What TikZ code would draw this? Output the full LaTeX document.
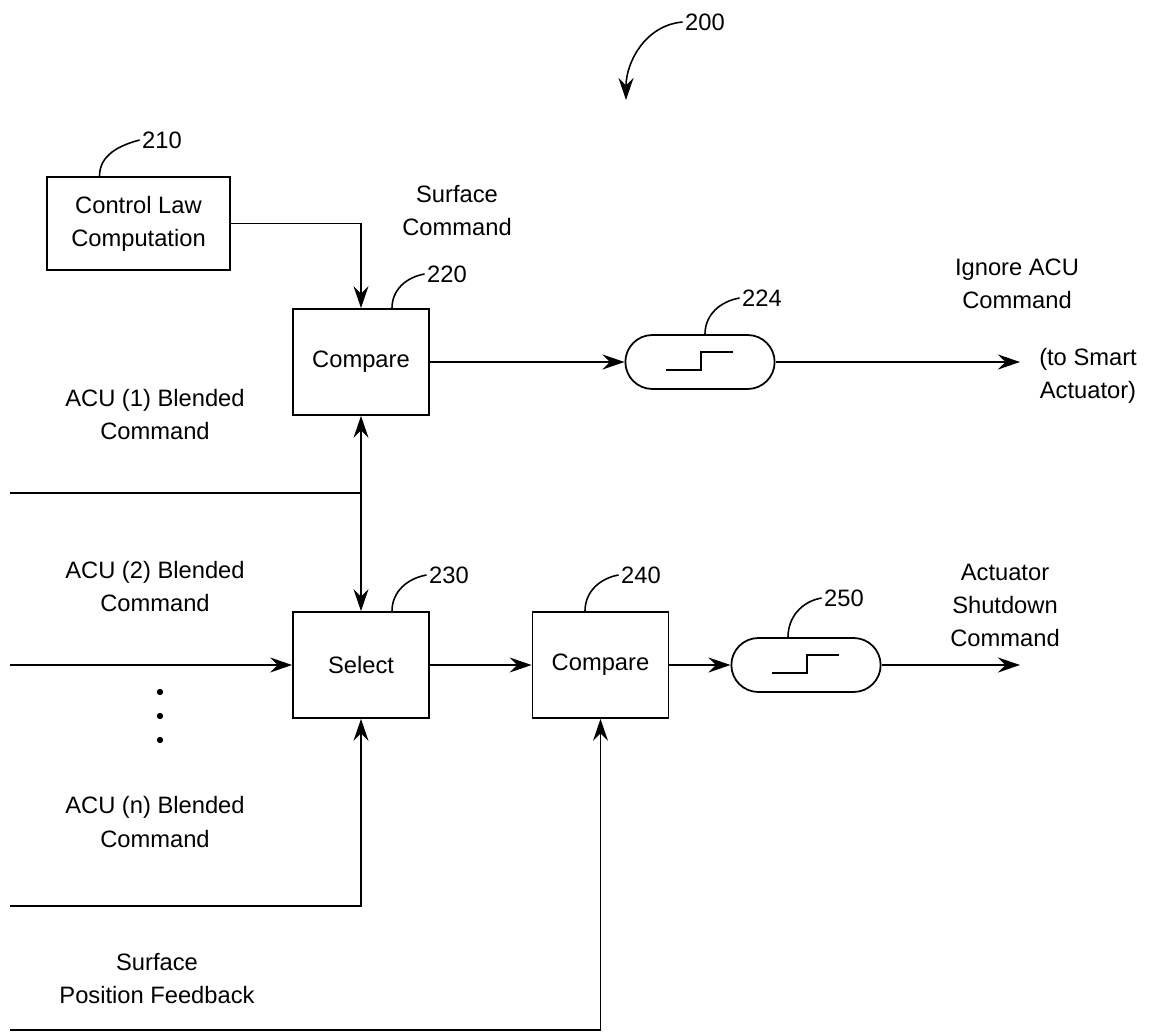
\documentclass[tikz,border=0pt]{standalone}
\usepackage{fontspec}
\setmainfont{Liberation Sans}
\usetikzlibrary{arrows.meta,shapes.misc}

\tikzset{
	blok/.style = {draw, line width=1pt, align=center, minimum width=2.72cm, minimum height=2.12cm},
	pill/.style = {draw, line width=1pt, rounded rectangle, minimum width=3.22cm, minimum height=1.08cm},
	txt/.style = {align=center, inner sep=1pt},
	refnum/.style = {inner sep=1pt},
	lead/.style = {line width=0.9pt},
	>={Stealth[length=4.4mm, width=3mm, inset=1.5mm]}
}

\newcommand{\stepsym}[1]{\draw [line width=0.9pt]([shift={(-34,8)}]#1.center) -- ++(35,0) -- ++(0,-18) -- ++(32,0);}

\begin{document}
\begin{tikzpicture}[x=0.02cm, y=-0.02cm, line width=1pt, font=\fontsize{13.5}{18.8}\selectfont]
	\useasboundingbox (0,0) rectangle (1156,1034);

	% blocks
	\node (law)[blok, minimum width=3.66cm, minimum height=1.86cm] at(138.5,223.5) {Control Law\\Computation};
	\node (cmpa)[blok] at(361,362) {Compare};
	\node (sel)[blok] at(361,665) {Select};
	\node (cmpb)[blok] at(600.5,665) {Compare};
	\node (flta)[pill] at(700,362) {};
	\node (fltb)[pill] at(806,665) {};
	\stepsym{flta}
	\stepsym{fltb}

	% reference numerals
	\node (n200)[refnum] at(705,22) {200};
	\node (n210)[refnum] at(162,140) {210};
	\node (n220)[refnum] at(447,274) {220};
	\node (n224)[refnum] at(762,298) {224};
	\node (n230)[refnum] at(449,575) {230};
	\node (n240)[refnum] at(641,575) {240};
	\node (n250)[refnum] at(844,598) {250};

	\draw [->, lead](n200.west) to[out=185, in=90] (626,100);
	\draw [lead]([xshift=-0.78cm]law.north) to[out=90, in=195] (n210.west);
	\draw [lead]([xshift=0.62cm]cmpa.north) to[out=90, in=190] (n220.west);
	\draw [lead]([xshift=0.1cm]flta.north) to[out=90, in=190] (n224.west);
	\draw [lead]([xshift=0.62cm]sel.north) to[out=90, in=190] (n230.west);
	\draw [lead]([xshift=-0.31cm]cmpb.north) to[out=90, in=190] (n240.west);
	\draw [lead]([xshift=-0.36cm]fltb.north) to[out=90, in=190] (n250.west);

	% signal labels
	\node (lsc)[txt] at(457,211) {Surface\\Command};
	\node (lign)[txt] at(1017,284) {Ignore ACU\\Command};
	\node (lsmart)[txt] at(1088,376) {(to Smart\\Actuator)};
	\node (lacu1)[txt] at(155,415) {ACU (1) Blended\\Command};
	\node (lacu2)[txt] at(155,587) {ACU (2) Blended\\Command};
	\node (lacun)[txt] at(155,822) {ACU (n) Blended\\Command};
	\node (lshut)[txt] at(1005,605) {Actuator\\Shutdown\\Command};
	\node (lfb)[txt] at(157,979) {Surface\\Position Feedback};

	\foreach \y in {692,716,740}
		\fill (160,\y) circle (3.2);

	% line ends
	\coordinate (acu1) at(10,493);
	\coordinate (acu2) at(10,665);
	\coordinate (acun) at(10,906);
	\coordinate (fb) at(10,1030);
	\coordinate (outa) at(1020,362);
	\coordinate (outb) at(1020,665);

	% connections
	\draw [->](law.east) -| (cmpa.north);
	\draw [<->](cmpa.south) -- (sel.north);
	\draw (acu1) -- (acu1 -| cmpa.south);
	\draw [->](acu2) -- (sel.west);
	\draw [->](acun) -| (sel.south);
	\draw [->](fb) -| (cmpb.south);
	\draw [->](cmpa.east) -- (flta.west);
	\draw [->](flta.east) -- (outa);
	\draw [->](sel.east) -- (cmpb.west);
	\draw [->](cmpb.east) -- (fltb.west);
	\draw [->](fltb.east) -- (outb);
\end{tikzpicture}
\end{document}
